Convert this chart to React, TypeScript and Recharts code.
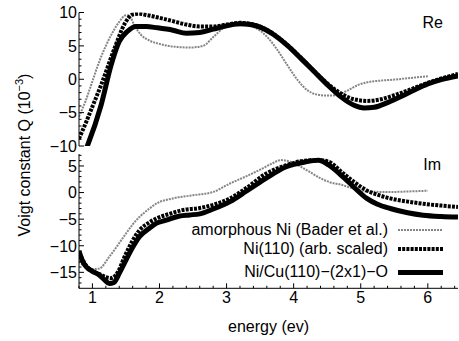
import { LineChart, Line, XAxis, YAxis, Legend } from "recharts";

const FONT = "'Liberation Sans', Arial, Helvetica, sans-serif";

// energy axis ticks (eV), minor every 0.2
const xTicks = [0.8, 1, 1.2, 1.4, 1.6, 1.8, 2, 2.2, 2.4, 2.6, 2.8, 3, 3.2, 3.4, 3.6, 3.8, 4, 4.2, 4.4, 4.6, 4.8, 5, 5.2, 5.4, 5.6, 5.8, 6, 6.2, 6.4];
const xMajor = [1, 2, 3, 4, 5, 6];

const reTicks = [-9, -8, -7, -6, -5, -4, -3, -2, -1, 0, 1, 2, 3, 4, 5, 6, 7, 8, 9, -10, 10];
const reMajor = [-10, -5, 0, 5, 10];
const imTicks = [-17, -16, -15, -14, -13, -12, -11, -10, -9, -8, -7, -6, -5, -4, -3, -2, -1, 0, 1, 2, 3, 4, 5, 6, 7];
const imMajor = [-15, -10, -5, 0, 5];

const seriesNames = ["amorphous Ni (Bader et al.)", "Ni(110) (arb. scaled)", "Ni/Cu(110)\u2212(2x1)\u2212O"];

// Re part
const reAmorphE = [0.8, 0.9, 1.0, 1.1, 1.2, 1.3, 1.4, 1.5, 1.55, 1.62, 1.72, 1.85, 2.0, 2.2, 2.45, 2.65, 2.8, 2.95, 3.1, 3.3, 3.45, 3.6, 3.75, 3.9, 4.05, 4.2, 4.35, 4.5, 4.65, 4.8, 4.95, 5.1, 5.3, 5.5, 5.75, 6.0];
const reAmorphQ = [-5.6, -3.2, -0.3, 2.6, 5.0, 7.0, 8.6, 9.6, 9.5, 8.2, 6.7, 5.8, 5.3, 4.9, 4.75, 5.0, 6.3, 7.6, 8.0, 8.1, 7.6, 6.4, 4.5, 2.2, 0.0, -1.6, -2.3, -2.45, -2.35, -1.7, -0.9, -0.45, -0.2, -0.05, 0.2, 0.45];

const reNiE = [0.8, 0.93, 1.0, 1.13, 1.33, 1.48, 1.6, 1.7, 1.82, 2.0, 2.2, 2.4, 2.6, 2.8, 3.0, 3.2, 3.35, 3.5, 3.7, 3.9, 4.1, 4.3, 4.5, 4.7, 4.9, 5.1, 5.3, 5.5, 5.7, 5.9, 6.1, 6.3, 6.45];
const reNiQ = [-8.9, -5.85, -4.1, -0.85, 4.65, 8.3, 9.7, 9.8, 9.6, 9.2, 8.7, 8.2, 7.9, 7.9, 8.2, 8.45, 8.3, 7.9, 6.8, 5.2, 3.3, 1.3, -0.6, -2.1, -3.0, -3.25, -3.0, -2.4, -1.7, -0.9, -0.2, 0.4, 0.8];

const reCuE = [0.84, 0.93, 1.13, 1.28, 1.4, 1.52, 1.65, 1.8, 1.97, 2.2, 2.4, 2.6, 2.8, 3.0, 3.2, 3.35, 3.5, 3.7, 3.9, 4.1, 4.3, 4.5, 4.7, 4.9, 5.05, 5.2, 5.4, 5.6, 5.8, 6.0, 6.2, 6.45];
const reCuQ = [-12, -9.85, -3.85, 2.15, 5.65, 7.15, 7.9, 7.9, 7.7, 7.35, 6.9, 7.0, 7.5, 8.0, 8.3, 8.2, 7.8, 6.7, 5.1, 3.2, 1.2, -0.8, -2.6, -3.9, -4.3, -4.2, -3.5, -2.6, -1.6, -0.7, -0.05, 0.5];

// Im part
const imAmorphE = [0.8, 0.9, 1.0, 1.1, 1.25, 1.4, 1.5, 1.6, 1.7, 1.85, 1.95, 2.2, 2.5, 2.8, 3.05, 3.3, 3.5, 3.7, 3.8, 3.95, 4.1, 4.25, 4.4, 4.55, 4.7, 4.9, 5.1, 5.4, 5.7, 6.0];
const imAmorphQ = [-13.0, -14.0, -14.4, -14.3, -12.1, -9.5, -7.7, -6.0, -4.6, -3.0, -2.1, -1.1, -0.5, 0.1, 1.7, 3.1, 4.3, 5.6, 6.1, 5.8, 4.9, 3.8, 2.7, 1.9, 1.5, 0.7, 0.2, 0.1, 0.2, 0.35];

const imNiE = [0.8, 0.9, 1.0, 1.1, 1.2, 1.27, 1.35, 1.5, 1.6, 1.7, 1.85, 1.95, 2.15, 2.34, 2.6, 2.8, 3.05, 3.3, 3.58, 3.88, 4.17, 4.37, 4.52, 4.74, 4.9, 5.09, 5.25, 5.44, 5.7, 5.93, 6.2, 6.45];
const imNiQ = [-11.3, -13.6, -14.8, -15.3, -15.9, -16.1, -15.5, -11.5, -9.0, -7.1, -5.6, -4.9, -4.0, -3.3, -2.9, -2.3, -1.1, 0.9, 3.5, 5.1, 6.0, 6.1, 5.8, 3.6, 2.0, 0.4, -0.4, -1.1, -1.7, -2.1, -2.45, -2.7];

const imCuE = [0.8, 0.85, 0.91, 1.0, 1.1, 1.18, 1.25, 1.32, 1.4, 1.5, 1.6, 1.7, 1.85, 1.95, 2.1, 2.3, 2.45, 2.6, 2.8, 3.05, 3.3, 3.58, 3.88, 4.17, 4.37, 4.52, 4.74, 4.9, 5.09, 5.25, 5.44, 5.7, 5.93, 6.2, 6.45];
const imCuQ = [-11.0, -12.8, -14.0, -14.8, -15.5, -16.4, -17.1, -16.9, -15.2, -12.7, -10.3, -8.3, -6.7, -5.8, -5.2, -4.4, -4.2, -4.0, -3.1, -1.7, 0.3, 2.6, 4.8, 5.75, 6.06, 5.2, 2.9, 1.0, -1.1, -2.2, -3.0, -3.8, -4.26, -4.5, -4.6];

const zip = (e: number[], q: number[]) => e.map((x, i) => ({ e: x, q: q[i] }));

const STYLES = [
  { stroke: "#858585", strokeWidth: 2, strokeDasharray: "2 1" },
  { stroke: "#000", strokeWidth: 4, strokeDasharray: "3 1.2" },
  { stroke: "#000", strokeWidth: 5, strokeDasharray: undefined as string | undefined },
];

const fmt = (v: number) => (v < 0 ? `\u2212${Math.abs(v)}` : `${v}`);

type Side = "top" | "bottom" | "left" | "right";

// gnuplot-like inward ticks; with tickSize 0 the (x, y) we get sits on the frame
function tickMark(side: Side, majors: number[], labels: boolean) {
  return function TickMark(props: any) {
    const { x, y, payload } = props;
    const v = payload.value as number;
    const major = majors.includes(v);
    const len = major ? 5 : 2.5;
    let x2 = x;
    let y2 = y;
    if (side === "bottom") y2 = y - len;
    if (side === "top") y2 = y + len;
    if (side === "left") x2 = x + len;
    if (side === "right") x2 = x - len;
    return (
      <g>
        <line x1={x} y1={y} x2={x2} y2={y2} stroke="#000" strokeWidth={1} />
        {labels && major && side === "bottom" && (
          <text x={x} y={y + 14.5} textAnchor="middle" fontSize={16} fontFamily={FONT} fill="#000">
            {fmt(v)}
          </text>
        )}
        {labels && major && side === "left" && (
          <text x={x - 2} y={y} dy="0.36em" textAnchor="end" fontSize={16} fontFamily={FONT} fill="#000">
            {fmt(v)}
          </text>
        )}
      </g>
    );
  };
}

function LegendBox() {
  const baselines = [234.5, 253.5, 277];
  return (
    <svg width={459} height={341} style={{ position: "absolute", left: 0, top: 0 }}>
      {seriesNames.map((n, i) => (
        <g key={n}>
          <text x={388} y={baselines[i]} textAnchor="end" fontSize={16} fontFamily={FONT} fill="#000">
            {n}
          </text>
          <line x1={398} x2={443} y1={baselines[i] - 4.5} y2={baselines[i] - 4.5} {...STYLES[i]} />
        </g>
      ))}
    </svg>
  );
}

function Panel({
  top,
  bottom,
  domain,
  yTicks,
  yMajor,
  series,
  last,
}: {
  top: number;
  bottom: number;
  domain: [number, number];
  yTicks: number[];
  yMajor: number[];
  series: { e: number; q: number }[][];
  last: boolean;
}) {
  return (
    <div style={{ position: "absolute", left: 0, top: 0 }}>
      <LineChart width={459} height={341} margin={{ top, right: 1, bottom, left: 0 }}>
        <XAxis
          xAxisId="b"
          type="number"
          dataKey="e"
          domain={[0.8, 6.45]}
          allowDataOverflow
          ticks={xTicks}
          interval={0}
          height={last ? 44 : 0}
          tickSize={0}
          tickMargin={0}
          axisLine={{ stroke: "#000" }}
          tick={tickMark("bottom", xMajor, last)}
          label={
            last
              ? { value: "energy (ev)", position: "insideBottom", offset: 0, fontSize: 16, fontFamily: FONT, fill: "#000" }
              : undefined
          }
        />
        <XAxis
          xAxisId="t"
          orientation="top"
          type="number"
          dataKey="e"
          domain={[0.8, 6.45]}
          allowDataOverflow
          ticks={xTicks}
          interval={0}
          height={0}
          tickSize={0}
          tickMargin={0}
          axisLine={{ stroke: "#000" }}
          tick={tickMark("top", xMajor, false)}
        />
        <YAxis
          yAxisId="l"
          type="number"
          domain={domain}
          allowDataOverflow
          ticks={yTicks}
          interval={0}
          width={79}
          tickSize={0}
          tickMargin={0}
          axisLine={{ stroke: "#000" }}
          tick={tickMark("left", yMajor, true)}
        />
        <YAxis
          yAxisId="r"
          orientation="right"
          type="number"
          domain={domain}
          allowDataOverflow
          ticks={yMajor}
          interval={0}
          width={0}
          tickSize={0}
          tickMargin={0}
          axisLine={{ stroke: "#000" }}
          tick={tickMark("right", yMajor, false)}
        />
        {series.map((d, i) => (
          <Line
            key={seriesNames[i]}
            xAxisId="b"
            yAxisId="l"
            data={d}
            dataKey="q"
            name={seriesNames[i]}
            type="monotone"
            dot={false}
            activeDot={false}
            isAnimationActive={false}
            {...STYLES[i]}
          />
        ))}
        {last && (
          <Legend
            layout="vertical"
            align="center"
            verticalAlign="middle"
            wrapperStyle={{ left: 0, top: 0, width: 459, height: 341 }}
            content={() => <LegendBox />}
          />
        )}
      </LineChart>
    </div>
  );
}

export default function App() {
  return (
    <div
      style={{
        position: "absolute",
        left: 0,
        top: 0,
        width: 459,
        height: 341,
        background: "#fff",
        fontFamily: FONT,
        overflow: "hidden",
      }}
    >
      <Panel
        top={12.5}
        bottom={195}
        domain={[-10, 10]}
        yTicks={reTicks}
        yMajor={reMajor}
        series={[zip(reAmorphE, reAmorphQ), zip(reNiE, reNiQ), zip(reCuE, reCuQ)]}
        last={false}
      />
      <Panel
        top={154}
        bottom={8.7}
        domain={[-18, 7.25]}
        yTicks={imTicks}
        yMajor={imMajor}
        series={[zip(imAmorphE, imAmorphQ), zip(imNiE, imNiQ), zip(imCuE, imCuQ)]}
        last={true}
      />
      <svg width={459} height={341} style={{ position: "absolute", left: 0, top: 0, pointerEvents: "none" }}>
        <text x={443} y={28} textAnchor="end" fontSize={16} fontFamily={FONT} fill="#000">
          Re
        </text>
        <text x={441} y={170} textAnchor="end" fontSize={16} fontFamily={FONT} fill="#000">
          Im
        </text>
        <text transform="translate(30,155) rotate(-90)" textAnchor="middle" fontSize={16} fontFamily={FONT} fill="#000">
          Voigt constant Q (10
          <tspan fontSize={11} dy={-7}>
            {"\u22123"}
          </tspan>
          <tspan dy={7}>)</tspan>
        </text>
      </svg>
    </div>
  );
}
